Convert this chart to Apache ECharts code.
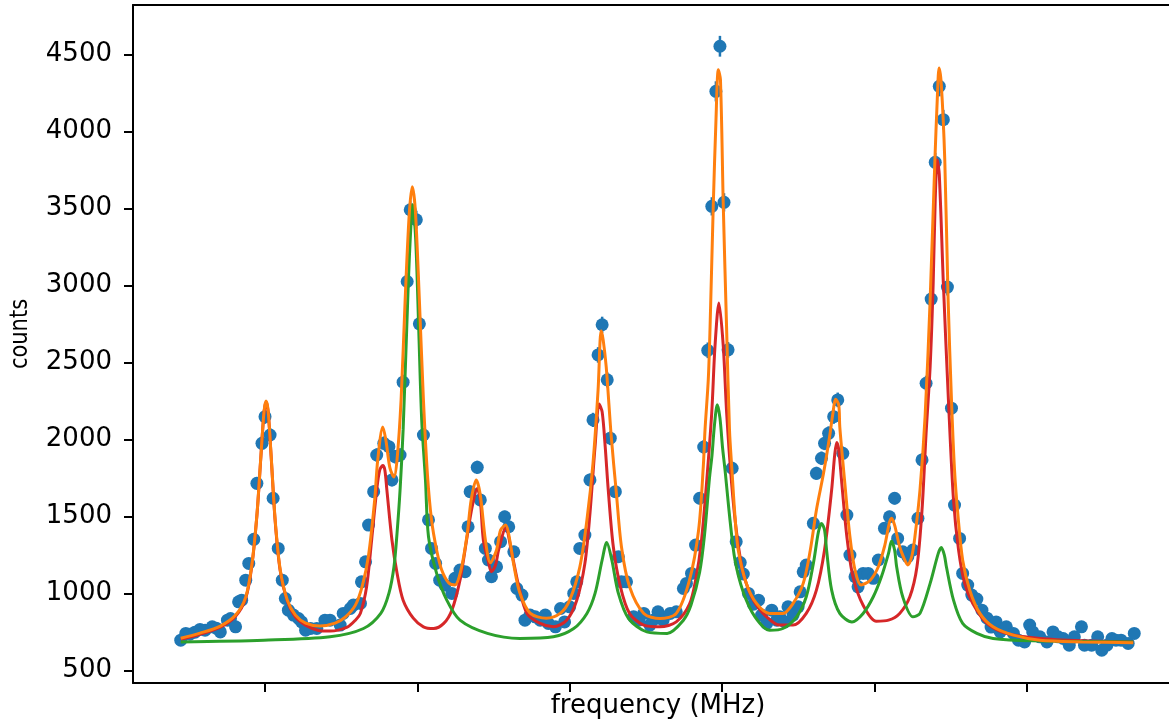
<!DOCTYPE html>
<html>
<head>
<meta charset="utf-8">
<script src="https://cdn.jsdelivr.net/npm/echarts@6/dist/echarts.min.js"></script>
<style>
  html, body { margin: 0; padding: 0; background: #fff; }
  #chart { width: 1169px; height: 721px; }
</style>
</head>
<body>
<div id="chart"></div>
<script>
// measured spectrum (frequency offset in MHz, counts)
const freq = [
  -533, -528, -524, -519, -514, -509, -502, -498, -494, -487, -484, -479, -476, -473, -469, -466, -461, -458, -453, -450,
  -445, -442, -437, -433, -430, -427, -422, -417, -414, -410, -405, -399, -391, -386, -376, -373, -366, -363, -356, -355,
  -351, -348, -343, -340, -333, -328, -325, -322, -317, -314, -310, -307, -301, -298, -294, -289, -286, -282, -278, -273,
  -266, -263, -258, -253, -250, -248, -241, -238, -233, -230, -227, -222, -218, -214, -210, -205, -202, -197, -194, -189,
  -184, -179, -174, -171, -164, -159, -155, -150, -146, -143, -140, -135, -130, -127, -122, -118, -113, -110, -105, -102,
  -99, -94, -87, -82, -77, -71, -68, -63, -58, -51, -45, -38, -35, -30, -26, -22, -18, -14, -10, -6,
  -2, 2, 6, 10, 14, 18, 21, 26, 31, 36, 39, 44, 49, 54, 57, 62, 65, 70, 75, 77,
  80, 83, 90, 93, 98, 101, 105, 110, 114, 119, 123, 126, 131, 134, 139, 144, 149, 154, 160, 165,
  170, 173, 178, 183, 188, 193, 197, 201, 206, 210, 214, 218, 222, 226, 229, 234, 237, 242, 246, 251,
  256, 261, 265, 270, 274, 280, 287, 292, 298, 303, 306, 313, 320, 326, 331, 336, 342, 347, 354, 357,
  364, 370, 374, 379, 384, 388, 393, 400, 406
];
const counts = [
  696, 740, 735, 748, 766, 761, 783, 774, 750, 826, 837, 783, 945, 956, 1086, 1195, 1351, 1715, 1975, 2148,
  2029, 1618, 1292, 1086, 967, 891, 859, 837, 815, 761, 772, 772, 826, 826, 794, 870, 902, 924, 935, 1075,
  1205, 1444, 1661, 1899, 1975, 1953, 1737, 1888, 1899, 2372, 3026, 3492, 3427, 2751, 2029, 1477, 1292, 1195, 1086, 1054,
  1000, 1098, 1152, 1141, 1433, 1661, 1819, 1607, 1292, 1217, 1108, 1173, 1336, 1498, 1433, 1270, 1032, 989, 826, 859,
  848, 826, 859, 805, 783, 902, 815, 913, 1000, 1075, 1292, 1379, 1737, 2127, 2549, 2745, 2387, 2008, 1661, 1238,
  1075, 1075, 848, 826, 870, 794, 826, 880, 826, 870, 880, 1032, 1065, 1130, 1314, 1618, 1951, 2579, 3514, 4261,
  4554, 3540, 2582, 1813, 1336, 1200, 1126, 1000, 930, 956, 859, 805, 891, 826, 848, 815, 913, 859, 913, 1010,
  1140, 1184, 1455, 1780, 1878, 1975, 2040, 2148, 2257, 1910, 1509, 1249, 1108, 1043, 1130, 1130, 1098, 1217, 1423, 1498,
  1618, 1357, 1270, 1238, 1282, 1488, 1867, 2365, 2912, 3800, 4294, 4077, 2990, 2203, 1574, 1357, 1130, 1054, 989, 963,
  891, 839, 781, 815, 750, 783, 740, 696, 685, 794, 750, 718, 685, 750, 718, 707, 664, 718, 783, 664,
  664, 718, 631, 664, 707, 696, 696, 675, 740
];

// total fit (orange)
const fitFreq = [
  -533, -514, -494, -479, -469, -463, -458, -454, -451, -449, -447, -444, -440, -435, -428, -420, -410, -396, -381, -371,
  -361, -354, -348, -342, -339, -334, -331, -327, -323, -320, -316, -312, -308, -305, -302, -298, -294, -290, -286, -281,
  -276, -269, -263, -257, -251, -247, -242, -238, -233, -228, -222, -218, -213, -209, -205, -199, -189, -173, -159, -150,
  -140, -133, -127, -122, -119, -117, -114, -109, -104, -99, -91, -77, -61, -45, -32, -23, -18.4, -16.7, -13.5, -11.8,
  -8.6, -5.9, -3.6, -1.5, 1.3, 4.6, 7.4, 9.8, 12.8, 16, 24, 34, 47, 60, 70, 80, 87, 93, 100, 106,
  109, 112, 115, 116, 121, 126, 131, 137, 146, 154, 160, 167, 170, 175, 180, 183, 187, 190, 195, 200,
  205, 209.6, 212, 213.8, 216, 219.4, 222.7, 226, 229, 232.5, 237, 244, 254, 267, 287, 313, 355, 405
];
const fitTotal = [
  709, 742, 788, 859, 976, 1184, 1509, 1899, 2179, 2250, 2192, 1899, 1477, 1152, 956, 859, 807, 788, 807, 846,
  924, 1054, 1249, 1607, 1867, 2081, 1997, 1815, 1756, 1867, 2257, 2907, 3460, 3642, 3492, 2907, 2257, 1769, 1477, 1282,
  1152, 1067, 1054, 1152, 1379, 1607, 1737, 1639, 1347, 1199, 1282, 1412, 1444, 1347, 1184, 1002, 872, 839, 872, 956,
  1171, 1477, 1847, 2322, 2706, 2647, 2471, 2016, 1652, 1303, 1043, 870, 837, 870, 1086, 1412, 1823, 2062, 2387, 2712,
  3514, 4077, 4402, 4337, 3514, 2712, 2062, 1802, 1502, 1282, 1065, 935, 870, 870, 935, 1065, 1282, 1542, 1780, 2019,
  2159, 2261, 2224, 2083, 1715, 1368, 1152, 1054, 1086, 1173, 1303, 1488, 1444, 1303, 1217, 1184, 1243, 1368, 1672, 2148,
  2907, 3800, 4207, 4413, 4305, 3817, 2907, 2257, 1802, 1498, 1217, 1021, 870, 783, 729, 696, 685, 679
];

// first component (red)
const redFreq = [
  -533, -514, -494, -479, -469, -463, -458, -454, -451, -449, -447, -444, -440, -435, -428, -420, -410, -398, -386, -369,
  -361, -356, -350, -345, -340, -337, -334, -332, -330, -325, -320, -314, -304, -294, -284, -274, -266, -258, -251, -246,
  -241, -238, -235, -230, -227, -223, -220, -213, -207, -200, -192, -179, -166, -153, -143, -135, -130, -125, -121, -118,
  -115, -112, -107, -100, -91, -77, -61, -45, -32, -25.6, -20.4, -15.4, -10.1, -6.9, -3, 1.3, 4.6, 9.5, 14.5, 21,
  31, 44, 57, 70, 83, 93, 101, 108, 111, 113, 115, 118, 123, 129, 139, 152, 164, 175, 185, 192,
  197, 201, 205, 208, 210, 212, 214, 218, 223, 228, 233, 239, 247, 261, 280, 313, 356, 405
];
const redCounts = [
  702, 735, 781, 852, 969, 1178, 1503, 1893, 2172, 2244, 2185, 1893, 1470, 1145, 950, 846, 794, 761, 755, 781,
  826, 872, 1041, 1347, 1672, 1802, 1830, 1802, 1672, 1347, 1132, 956, 839, 783, 772, 805, 891, 1086, 1368, 1563,
  1682, 1607, 1347, 1205, 1140, 1184, 1282, 1423, 1262, 1043, 870, 805, 783, 826, 956, 1195, 1520, 1953, 2231, 2179,
  1953, 1672, 1303, 1043, 870, 794, 783, 815, 930, 1100, 1330, 1700, 2172, 2603, 2886, 2603, 2172, 1715, 1390, 1130,
  956, 848, 794, 794, 870, 1021, 1282, 1672, 1900, 1980, 1932, 1715, 1368, 1108, 923, 819, 826, 870, 978, 1173,
  1542, 2040, 2474, 3016, 3557, 3817, 3720, 3016, 2257, 1607, 1282, 1065, 935, 805, 740, 707, 692, 685
];

// second component (green)
const greenFreq = [
  -533, -451, -386, -353, -336, -328, -323, -320, -317, -314, -310.5, -307.5, -304.5, -301.6, -298.6, -295.7, -292, -289, -281, -271,
  -258, -231, -199, -166, -146, -133, -125, -118, -113.5, -108.5, -102, -92, -74, -54, -38, -30.5, -22, -17.2, -12.3, -9.8,
  -7.4, -4.6, -2, 0.5, 3, 7.9, 12.8, 21, 32.5, 47, 60, 73.5, 83, 90, 95, 98, 101, 103, 108, 116,
  128, 139, 149, 157, 164, 167, 170, 172, 178, 188, 195, 205, 213, 216, 219, 221, 228, 237, 251, 267,
  306, 405
];
const greenCounts = [
  685, 696, 718, 772, 870, 1000, 1173, 1390, 1672, 2062, 2712, 3232, 3525, 3297, 2712, 2127, 1737, 1368, 1130, 956,
  826, 740, 707, 718, 772, 870, 1000, 1217, 1330, 1217, 1000, 837, 750, 740, 826, 924, 1138, 1379, 1750, 1899,
  2094, 2225, 2140, 1951, 1802, 1477, 1217, 1008, 848, 761, 772, 848, 978, 1195, 1400, 1454, 1412, 1282, 1021, 870,
  815, 870, 978, 1108, 1260, 1340, 1282, 1173, 978, 848, 870, 1065, 1260, 1298, 1249, 1173, 956, 805, 740, 707,
  692, 685
];

// axis ticks (x has no labels in the original)
const xTicks = [-450, -300, -150, 0, 150, 300];
const yTicks = [500, 1000, 1500, 2000, 2500, 3000, 3500, 4000, 4500];
const xRange = [-580, 454];
const yRange = [418, 4822];

const pts = (xs, ys) => xs.map((x, i) => [x, ys[i]]);

const font = 'DejaVu Sans';

const chart = echarts.init(document.getElementById('chart'));

chart.setOption({
  animation: false,
  backgroundColor: '#fff',
  grid: { left: 133, top: 5, bottom: 38, right: -14, containLabel: false, outerBoundsMode: 'none' },
  xAxis: [
    {
      type: 'value',
      min: xRange[0],
      max: xRange[1],
      axisLine: { show: true, onZero: false, lineStyle: { color: '#000', width: 2 } },
      axisTick: { show: true, customValues: xTicks, length: 9, lineStyle: { color: '#000', width: 2 } },
      axisLabel: { show: false },
      splitLine: { show: false }
    },
    {
      type: 'value',
      position: 'top',
      min: xRange[0],
      max: xRange[1],
      axisLine: { show: true, onZero: false, lineStyle: { color: '#000', width: 2 } },
      axisTick: { show: false },
      axisLabel: { show: false },
      splitLine: { show: false }
    }
  ],
  yAxis: {
    type: 'value',
    min: yRange[0],
    max: yRange[1],
    axisLine: { show: true, onZero: false, lineStyle: { color: '#000', width: 2 } },
    axisTick: { show: true, customValues: yTicks, length: 9, lineStyle: { color: '#000', width: 2 } },
    axisLabel: { show: false },
    splitLine: { show: false }
  },
  series: [
    {
      name: 'error',
      type: 'custom',
      z: 1,
      silent: true,
      data: pts(freq, counts),
      renderItem: function (params, api) {
        const x = api.value(0);
        const y = api.value(1);
        const e = Math.sqrt(y);
        const p1 = api.coord([x, y - e]);
        const p2 = api.coord([x, y + e]);
        return {
          type: 'line',
          shape: { x1: p1[0], y1: p1[1], x2: p2[0], y2: p2[1] },
          style: { stroke: '#1f77b4', lineWidth: 2.5 }
        };
      }
    },
    {
      name: 'data',
      type: 'scatter',
      z: 2,
      symbolSize: 13,
      itemStyle: { color: '#1f77b4', opacity: 1 },
      data: pts(freq, counts)
    },
    {
      name: 'red',
      type: 'line',
      z: 3,
      showSymbol: false,
      smooth: 0.3,
      lineStyle: { color: '#d62728', width: 3 },
      data: pts(redFreq, redCounts)
    },
    {
      name: 'green',
      type: 'line',
      z: 4,
      showSymbol: false,
      smooth: 0.3,
      lineStyle: { color: '#2ca02c', width: 3 },
      data: pts(greenFreq, greenCounts)
    },
    {
      name: 'fit',
      type: 'line',
      z: 5,
      showSymbol: false,
      smooth: 0.3,
      lineStyle: { color: '#ff7f0e', width: 3 },
      data: pts(fitFreq, fitTotal)
    }
  ]
});

// axis texts, placed through the chart's own scales
const axisLeft = chart.convertToPixel({ xAxisIndex: 0 }, xRange[0]);
const axisBottom = chart.convertToPixel({ yAxisIndex: 0 }, yRange[0]);
const axisTop = chart.convertToPixel({ yAxisIndex: 0 }, yRange[1]);
const axisMidX = chart.convertToPixel({ xAxisIndex: 0 }, (xRange[0] + xRange[1]) / 2);

const textStyle = (text, size, align) => ({
  text: text,
  fontFamily: font,
  fontSize: size,
  fill: '#000',
  align: align,
  verticalAlign: 'middle'
});

const labels = yTicks.map((v) => ({
  type: 'text',
  x: axisLeft - 21,
  y: chart.convertToPixel({ yAxisIndex: 0 }, v),
  style: textStyle(String(v), 26, 'right')
}));

labels.push({
  type: 'text',
  x: axisMidX,
  y: axisBottom + 23,
  style: textStyle('frequency (MHz)', 26, 'center')
});

// the y label is noticeably shorter in the original
labels.push({
  type: 'text',
  x: axisLeft - 113,
  y: (axisTop + axisBottom) / 2 - 10,
  rotation: Math.PI / 2,
  scaleY: 1.2,
  style: textStyle('counts', 21, 'center')
});

chart.setOption({ graphic: labels });
</script>
</body>
</html>
